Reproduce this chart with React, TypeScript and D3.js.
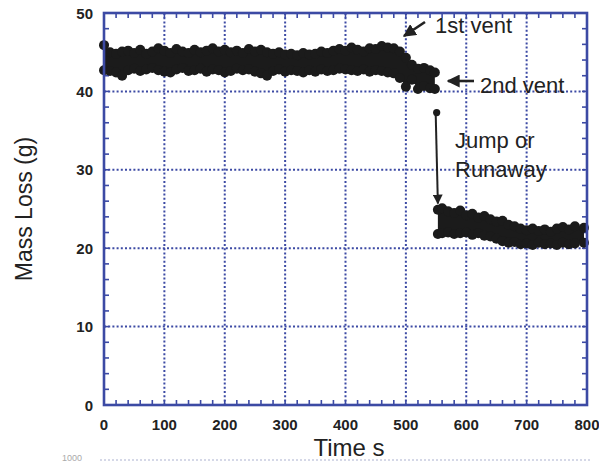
import React from 'react';
import * as d3 from 'd3';

// mass readings before the jump (two vents), upper and lower edge of the scatter band
const ventTime = [
  0, 10, 20, 30, 40, 50, 60, 70, 80, 90, 100, 110, 120, 130, 140, 150, 160, 170, 180, 190,
  200, 210, 220, 230, 240, 250, 260, 270, 280, 290, 300, 310, 320, 330, 340, 350, 360, 370, 380, 390,
  400, 410, 420, 430, 440, 450, 460, 470, 480, 490, 500, 510, 520, 530, 540, 548,
];
const ventHigh = [
  45.9, 45.0, 44.8, 45.1, 45.2, 44.9, 45.3, 44.8, 45.1, 45.5, 45.2, 44.9, 45.4, 45.1, 44.9, 45.3, 45.0, 45.2, 45.5, 45.1,
  45.3, 45.0, 45.2, 44.9, 45.4, 45.1, 45.3, 45.0, 44.8, 45.0, 44.7, 44.8, 44.6, 44.9, 44.7, 44.8, 45.1, 44.9, 45.2, 45.4,
  45.2, 45.6, 45.3, 45.1, 45.5, 45.4, 45.8, 45.6, 45.5, 45.1, 44.3, 43.4, 42.9, 43.0, 42.7, 42.4,
];
const ventLow = [
  42.7, 42.6, 42.4, 42.0, 42.7, 42.9, 42.6, 42.8, 43.0, 42.7, 42.5, 42.4, 42.8, 43.0, 42.6, 42.7, 42.9, 42.5, 42.8, 42.7,
  42.4, 42.6, 42.9, 42.7, 42.8, 42.5, 42.3, 42.0, 42.6, 42.8, 42.5, 42.7, 42.6, 42.4, 42.7, 42.5, 42.8, 42.6, 42.7, 42.9,
  42.8, 42.7, 42.6, 42.8, 42.5, 42.7, 42.6, 42.4, 42.3, 41.7, 40.6, 41.5, 40.3, 40.7, 40.4, 40.3,
];

// after the runaway
const runawayTime = [553, 560, 570, 580, 590, 600, 610, 620, 630, 640, 650, 660, 670, 680, 690, 700, 710, 720, 730, 740, 750, 760, 770, 780, 795];
const runawayHigh = [24.9, 25.1, 24.7, 24.5, 24.8, 24.2, 24.4, 23.9, 24.1, 23.7, 23.4, 23.5, 23.0, 22.8, 22.5, 22.3, 22.5, 22.2, 22.4, 22.1, 22.5, 22.7, 22.4, 22.8, 22.6];
const runawayLow = [21.8, 21.9, 22.0, 21.8, 21.9, 22.0, 21.7, 21.9, 21.6, 21.5, 21.2, 20.9, 20.7, 20.8, 20.5, 20.6, 20.4, 20.7, 20.5, 20.6, 20.4, 20.7, 20.5, 20.6, 20.7];

const jumpPoint = { t: 551, m: 37.3 };
const jumpTarget = { t: 553, m: 25.7 };

const xTicks = [0, 100, 200, 300, 400, 500, 600, 700, 800];
const yTicks = [0, 10, 20, 30, 40, 50];

const W = 599;
const H = 463;
const margin = { top: 13, right: 12, bottom: 58, left: 104 };
const BLUE = '#3c4aa4';
const INK = '#222';
const FONT = '"Liberation Sans", Arial, Helvetica, sans-serif';

type Pt = { t: number; hi: number; lo: number };

const Band = ({ pts, x, y }: { pts: Pt[]; x: any; y: any }) => {
  const area = d3
    .area<Pt>()
    .x((d) => x(d.t))
    .y0((d) => y(d.lo))
    .y1((d) => y(d.hi));
  return (
    <g fill="#1b1b1b">
      <path d={area(pts) || ''} />
      {pts.map((d, i) => (
        <g key={i}>
          <circle cx={x(d.t)} cy={y(d.hi)} r={5} />
          <circle cx={x(d.t)} cy={y(d.lo)} r={5} />
        </g>
      ))}
    </g>
  );
};

const App = () => {
  const x = d3.scaleLinear().domain([0, 800]).range([margin.left, W - margin.right]);
  const y = d3.scaleLinear().domain([0, 50]).range([H - margin.bottom, margin.top]);
  const [x0, x1] = x.range();
  const [y0, y1] = y.range();

  const vent: Pt[] = ventTime.map((t, i) => ({ t, hi: ventHigh[i], lo: ventLow[i] }));
  const runaway: Pt[] = runawayTime.map((t, i) => ({ t, hi: runawayHigh[i], lo: runawayLow[i] }));

  const xMinor = d3.range(0, 801, 20);
  const yMinor = d3.range(0, 51, 2);

  return (
    <svg width={W} height={H} style={{ position: 'absolute', left: 0, top: 0, background: '#fff' }} fontFamily={FONT}>
      <defs>
        <marker id="head" viewBox="0 0 10 10" refX="9" refY="5" markerWidth="5" markerHeight="5" orient="auto">
          <path d="M0,0 L10,5 L0,10 z" fill={INK} />
        </marker>
      </defs>

      {/* grid */}
      <g stroke={BLUE} strokeWidth={2} strokeDasharray="2,2.2">
        {xTicks.slice(1, -1).map((t) => (
          <line key={'gx' + t} x1={x(t)} x2={x(t)} y1={y1} y2={y0} />
        ))}
        {yTicks.slice(1, -1).map((t) => (
          <line key={'gy' + t} x1={x0} x2={x1} y1={y(t)} y2={y(t)} />
        ))}
      </g>

      {/* minor ticks on all four sides, pointing in */}
      <g stroke={BLUE} strokeWidth={1.6}>
        {xMinor.map((t) => (
          <g key={'tx' + t}>
            <line x1={x(t)} x2={x(t)} y1={y0} y2={y0 - 5} />
            <line x1={x(t)} x2={x(t)} y1={y1} y2={y1 + 5} />
          </g>
        ))}
        {yMinor.map((t) => (
          <g key={'ty' + t}>
            <line x1={x0} x2={x0 + 5} y1={y(t)} y2={y(t)} />
            <line x1={x1} x2={x1 - 5} y1={y(t)} y2={y(t)} />
          </g>
        ))}
      </g>

      <Band pts={vent} x={x} y={y} />
      <Band pts={runaway} x={x} y={y} />

      {/* frame */}
      <rect x={x0} y={y1} width={x1 - x0} height={y0 - y1} fill="none" stroke={BLUE} strokeWidth={2.6} />

      {/* tick labels */}
      <g fontSize={15} fontWeight="bold" fill={INK}>
        {xTicks.map((t) => (
          <text key={'lx' + t} x={x(t)} y={y0 + 25} textAnchor="middle">
            {t}
          </text>
        ))}
        {yTicks.map((t) => (
          <text key={'ly' + t} x={x0 - 11} y={y(t) + 5.5} textAnchor="end">
            {t}
          </text>
        ))}
      </g>

      {/* axis titles */}
      <text x={349} y={456} fontSize={24} fill={INK} textAnchor="middle">
        Time s
      </text>
      <text transform="translate(32,209) rotate(-90)" fontSize={23} fill={INK} textAnchor="middle">
        Mass Loss (g)
      </text>

      {/* annotations */}
      <g fill={INK} fontSize={22}>
        <text x={435} y={33}>1st vent</text>
        <text x={480} y={93}>2nd vent</text>
        <text x={455} y={148}>Jump or</text>
        <text x={455} y={177}>Runaway</text>
      </g>
      <g stroke={INK} fill="none">
        <line x1={425} y1={22} x2={404} y2={36} strokeWidth={2.6} markerEnd="url(#head)" />
        <line x1={474} y1={81} x2={448} y2={81} strokeWidth={2.6} markerEnd="url(#head)" />
        <line
          x1={x(jumpPoint.t) - 1}
          y1={y(jumpPoint.m)}
          x2={x(jumpTarget.t)}
          y2={y(jumpTarget.m)}
          strokeWidth={2}
          markerEnd="url(#head)"
        />
      </g>
      <circle cx={x(jumpPoint.t)} cy={y(jumpPoint.m)} r={3.6} fill="#1b1b1b" />

      {/* edge of the next figure, cut off */}
      <text x={62} y={461} fontSize={9} fill="#aaa">1000</text>
      <line x1={100} x2={590} y1={460} y2={460} stroke="#c8cbe0" strokeWidth={1.5} strokeDasharray="2,2" />
    </svg>
  );
};

export default App;
